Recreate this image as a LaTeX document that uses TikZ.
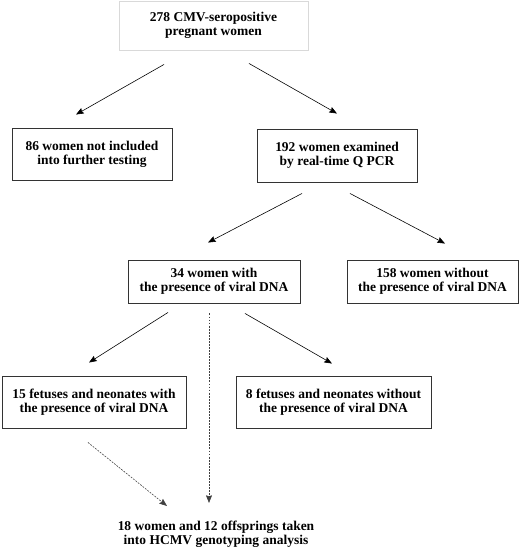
\documentclass[tikz,border=0pt]{standalone}
\usepackage{fontspec}
\setmainfont{Liberation Serif}
\usetikzlibrary{calc,arrows.meta}

\begin{document}
\begin{tikzpicture}[x=0.3mm, y=-0.3mm,
		box/.style={draw=black!80, line width=0.8pt, rectangle, align=center, inner sep=0pt, font=\fontsize{11.5}{12}\selectfont\bfseries},
		arr/.style={->, >={Stealth[length=2.3mm, width=1.8mm, inset=0.3mm]}, line width=0.5pt},
		dotarr/.style={arr, black!75, dash pattern=on 1.6pt off 1pt}]
	\useasboundingbox (0,0) rectangle (520,548);
	\node[box, draw=black!15, minimum width=56.7mm, minimum height=14.7mm] (top)at(213.5, 25.5) {278 CMV-seropositive\\pregnant women};
	\node[box, minimum width=48mm, minimum height=15.6mm] (n86)at(92, 154) {86 women not included\\into further testing};
	\node[box, minimum width=48mm, minimum height=15.9mm] (n192)at(337, 155.5) {192 women examined\\by real-time Q PCR};
	\node[box, minimum width=51.6mm, minimum height=12.9mm] (n34)at(214, 281.5) {34 women with\\the presence of viral DNA};
	\node[box, minimum width=51.3mm, minimum height=12.9mm] (n158)at(432.5, 281.5) {158 women without\\the presence of viral DNA};
	\node[box, minimum width=55.2mm, minimum height=15.6mm] (n15)at(94, 402) {15 fetuses and neonates with\\the presence of viral DNA};
	\node[box, minimum width=58.5mm, minimum height=15.6mm] (n8)at(333.5, 402) {8 fetuses and neonates without\\the presence of viral DNA};
	\node[box, draw=none] (res)at(216, 534) {18 women and 12 offsprings taken\\into HCMV genotyping analysis};
	% solid arrows
	\draw[arr] ($(top.south)+(-49.5, 14)$) -- ($(n86.north)+(-16, -13)$);
	\draw[arr] ($(top.south)+(35.5, 13)$) -- ($(n192.north)+(0, -15)$);
	\draw[arr] ($(n192.south)+(-35, 11)$) -- ($(n34.north)+(-6, -17)$);
	\draw[arr] ($(n192.south)+(13, 11)$) -- ($(n158.north)+(12.5, -16)$);
	\draw[arr] ($(n34.south)+(-46, 9)$) -- ($(n15.north)+(-5, -13)$);
	\draw[arr] ($(n34.south)+(31, 10)$) -- ($(n8.north)+(-1.5, -12)$);
	% dotted arrows
	\draw[dotarr] ($(n34.south)+(-5, 10)$) -- ($(res.center)+(-7, -31)$);
	\draw[dotarr] ($(n15.south)+(-6, 14)$) -- ($(res.center)+(-49, -28)$);
\end{tikzpicture}
\end{document}
